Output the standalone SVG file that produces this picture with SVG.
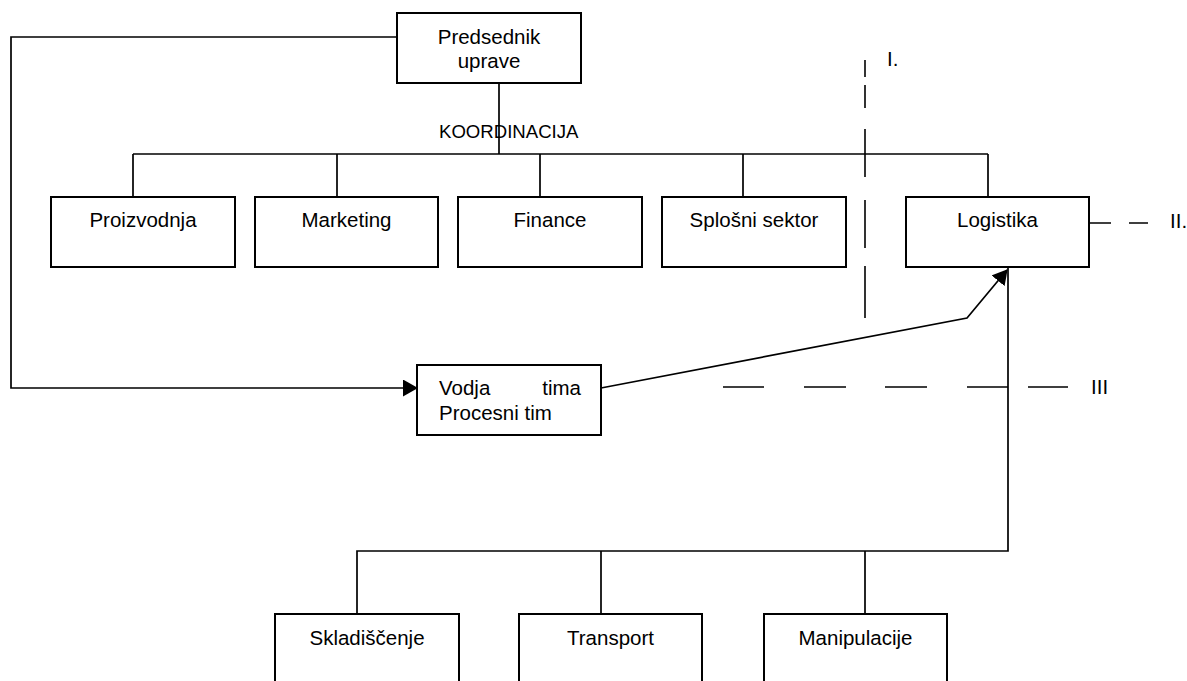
<svg xmlns="http://www.w3.org/2000/svg" width="1187" height="681" viewBox="0 0 1187 681">
  <style>
    .box { fill: #fff; stroke: #000; stroke-width: 2; }
    .lbl { font-family: "Liberation Sans", Arial, sans-serif; font-size: 20.5px; fill: #000; }
    .small { font-size: 18.6px; }
    .mid { text-anchor: middle; }
    .wire { fill: none; stroke: #000; stroke-width: 1.7; }
    .dash { fill: none; stroke: #000; stroke-width: 1.6; }
  </style>
  <defs>
    <marker id="arrow" viewBox="0 0 15 17" refX="14" refY="8.5" markerWidth="15" markerHeight="17" markerUnits="userSpaceOnUse" orient="auto">
      <path d="M0,0 L15,8.5 L0,17 Z" fill="#000"/>
    </marker>
  </defs>
  <rect width="1187" height="681" fill="#fff"/>

  <!-- connectors -->
  <g id="connectors">
    <!-- president to coordination bus -->
    <path class="wire" d="M499,83 V154"/>
    <path class="wire" d="M133,154 H988"/>
    <path class="wire" d="M133,154 V197 M337,154 V197 M540,154 V197 M743,154 V197 M988,154 V197"/>
    <!-- president loop to team leader -->
    <path class="wire" d="M397,37 H11 V388 H417" stroke-width="2" marker-end="url(#arrow)"/>
    <!-- team leader to logistics -->
    <path class="wire" d="M601,388 L967,318 L1007,270" stroke-width="2" marker-end="url(#arrow)"/>
    <!-- logistics to sub units -->
    <path class="wire" d="M1008,267 V551 H357 V614 M601,551 V614 M865,551 V614"/>
    <!-- level markers -->
    <path class="dash" stroke="#bbb" stroke-width="1" d="M865,60 V77"/>
    <path class="dash" d="M865,85 V108 M865,129 V177 M865,200 V248 M865,266 V318"/>
    <path class="dash" d="M1089,223 H1111 M1129,223 H1148"/>
    <path class="dash" d="M723,387 H764 M804,387 H846 M885,387 H927 M967,387 H1008 M1028,387 H1068"/>
  </g>

  <g id="predsednik">
    <rect class="box" x="397" y="13" width="184" height="70"/>
    <text class="lbl mid" x="489" y="44">Predsednik</text>
    <text class="lbl mid" x="489" y="68">uprave</text>
  </g>
  <text id="koordinacija" class="lbl small" x="439" y="138">KOORDINACIJA</text>

  <g id="proizvodnja">
    <rect class="box" x="51" y="197" width="184" height="70"/>
    <text class="lbl mid" x="143" y="227">Proizvodnja</text>
  </g>
  <g id="marketing">
    <rect class="box" x="255" y="197" width="183" height="70"/>
    <text class="lbl mid" x="346.5" y="227">Marketing</text>
  </g>
  <g id="finance">
    <rect class="box" x="458" y="197" width="184" height="70"/>
    <text class="lbl mid" x="550" y="227">Finance</text>
  </g>
  <g id="splosni">
    <rect class="box" x="662" y="197" width="184" height="70"/>
    <text class="lbl mid" x="754" y="227">Splošni sektor</text>
  </g>
  <g id="logistika">
    <rect class="box" x="906" y="197" width="183" height="70"/>
    <text class="lbl mid" x="997.5" y="227">Logistika</text>
  </g>

  <g id="vodja">
    <rect class="box" x="417" y="365" width="184" height="70"/>
    <text class="lbl" x="439" y="395">Vodja</text>
    <text class="lbl" x="581" y="395" text-anchor="end">tima</text>
    <text class="lbl" x="439" y="420">Procesni tim</text>
  </g>

  <g id="skladiscenje">
    <rect class="box" x="275" y="614" width="184" height="72"/>
    <text class="lbl mid" x="367" y="645">Skladiščenje</text>
  </g>
  <g id="transport">
    <rect class="box" x="519" y="614" width="183" height="72"/>
    <text class="lbl mid" x="610.5" y="645">Transport</text>
  </g>
  <g id="manipulacije">
    <rect class="box" x="764" y="614" width="183" height="72"/>
    <text class="lbl mid" x="855.5" y="645">Manipulacije</text>
  </g>

  <g id="levels">
    <text class="lbl" x="887" y="66">I.</text>
    <text class="lbl" x="1170" y="228">II.</text>
    <text class="lbl" x="1091" y="394">III</text>
  </g>
</svg>
